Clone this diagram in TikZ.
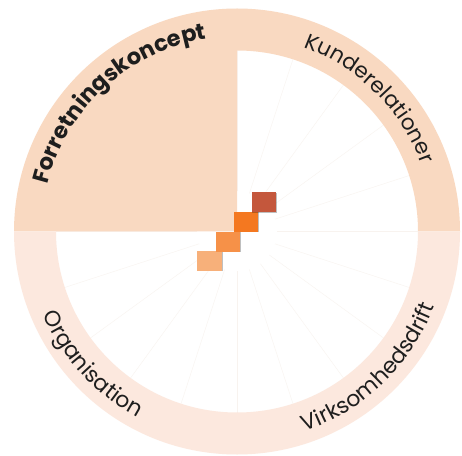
\documentclass[tikz,border=0pt]{standalone}
\usepackage{fontspec}
\newfontfamily\pop{Poppins}
\usetikzlibrary{decorations.text,shadows}
\definecolor{peachA}{HTML}{F9D9C1}
\definecolor{peachB}{HTML}{FCE8DE}
\definecolor{gridc}{HTML}{F8F3EF}
\definecolor{sqA}{HTML}{C4573C}
\definecolor{sqB}{HTML}{F47820}
\definecolor{sqC}{HTML}{F69148}
\definecolor{sqD}{HTML}{F7B07A}
\definecolor{ink}{HTML}{1E1E1E}
\tikzset{
  bar/.style={minimum width=24.5pt, minimum height=20pt, inner sep=0pt, outer sep=0pt,
    drop shadow={shadow xshift=0.6pt, shadow yshift=-0.6pt, opacity=0.25, fill=black}},
  gridline/.style={draw=gridc, line width=0.4pt},
  toplabel/.style={decorate, decoration={text along path, text align=center, text color=ink}},
}
\begin{document}
\begin{tikzpicture}[x=1pt,y=1pt]
\useasboundingbox (0,0) rectangle (462,455);
\fill[white] (0,0) rectangle (462,455);
\coordinate (C) at (237,223.5);
% grid lines
\foreach \a in {0,18,...,342} \draw[gridline] (C) ++(\a:40pt) -- ++(\a:141pt);
% top-left filled sector
\fill[peachA] (C) -- ++(180:223pt) arc[start angle=180,end angle=90,radius=223pt] -- cycle;
% top-right ring
\fill[peachA] (C) ++(90:223pt) arc[start angle=90,end angle=0,radius=223pt]
  -- ++(-42pt,0) arc[start angle=0,end angle=90,radius=181pt] -- cycle;
% bottom-right ring
\fill[peachB] (C) ++(0:223pt) arc[start angle=0,end angle=-90,radius=223pt]
  -- ++(0,42pt) arc[start angle=-90,end angle=0,radius=181pt] -- cycle;
% bottom-left ring
\fill[peachB] (C) ++(180:223pt) arc[start angle=180,end angle=270,radius=223pt]
  -- ++(0,42pt) arc[start angle=270,end angle=180,radius=181pt] -- cycle;
% labels
\path[toplabel, decoration={text={|\pop\fontsize{22.5}{26}\selectfont\bfseries|Forretningskoncept}}]
  (C) ++(180:195pt) arc[start angle=180,end angle=85,radius=195pt];
\path[toplabel, decoration={text={|\pop\fontsize{21.5}{25}\selectfont|Kunderelationer}}]
  (C) ++(90:196pt) arc[start angle=90,end angle=0,radius=196pt];
\path[toplabel, decoration={text={|\pop\fontsize{22}{25}\selectfont|Organisation}}]
  (C) ++(180:211pt) arc[start angle=180,end angle=265,radius=211pt];
\path[toplabel, decoration={text={|\pop\fontsize{22}{25}\selectfont|Virksomhedsdrift}}]
  (C) ++(270:211pt) arc[start angle=270,end angle=358,radius=211pt];
% bars
\node[bar, fill=sqD] (b4) at (209.65,194.3) {};
\node[bar, fill=sqC] (b3) at (228.0,213.3) {};
\node[bar, fill=sqB] (b2) at (246.0,233.15) {};
\node[bar, fill=sqA] (b1) at (264.0,252.7) {};
\end{tikzpicture}
\end{document}
